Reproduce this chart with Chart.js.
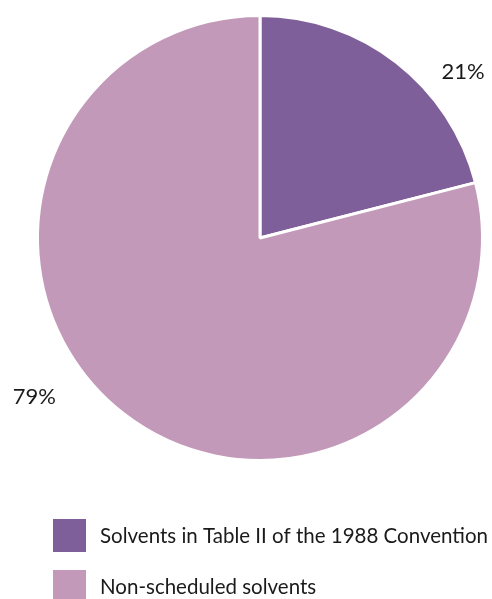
<!DOCTYPE html>
<html>
<head>
<meta charset="utf-8">
<script src="https://cdn.jsdelivr.net/npm/chart.js@4"></script>
<style>
  html, body { margin: 0; padding: 0; background: #fff; }
  #wrap { width: 492px; height: 599px; position: relative; }
</style>
</head>
<body>
<div id="wrap"><canvas id="pie"></canvas></div>
<script>
// data
const labels = ['Solvents in Table II of the 1988 Convention', 'Non-scheduled solvents'];
const shares = [21, 79];
const colours = ['#7f5f99', '#c299b8'];

const FONT = '"Lato", "Open Sans", sans-serif';

// percentage labels outside the slices + the legend underneath
const outsideLabels = {
    id: 'outsideLabels',
    afterDraw(chart, args, opts) {
        const ctx = chart.ctx;
        const meta = chart.getDatasetMeta(0);
        ctx.save();
        ctx.fillStyle = '#1a1a1a';
        ctx.font = '22px ' + FONT;
        ctx.textAlign = 'center';
        ctx.textBaseline = 'middle';
        meta.data.forEach((arc, i) => {
            const p = arc.getProps(['x', 'y', 'startAngle', 'endAngle', 'outerRadius'], true);
            const a = p.startAngle + (p.endAngle - p.startAngle) * opts.frac[i];
            const r = p.outerRadius * opts.dist[i];
            ctx.fillText(shares[i] + '%', p.x + Math.cos(a) * r, p.y + Math.sin(a) * r);
        });

        // legend
        ctx.textAlign = 'left';
        ctx.font = '20.5px ' + FONT;
        labels.forEach((lab, i) => {
            const y = opts.legendTop + i * opts.legendGap;
            ctx.fillStyle = colours[i];
            ctx.fillRect(opts.legendX, y, opts.box, opts.box);
            ctx.fillStyle = '#1a1a1a';
            ctx.fillText(lab, opts.legendX + opts.box + 14, y + opts.box / 2 + 1);
        });
        ctx.restore();
    }
};

new Chart(document.getElementById('pie'), {
    type: 'pie',
    data: {
        labels: labels,
        datasets: [{
            data: shares,
            backgroundColor: colours,
            borderColor: '#ffffff',
            borderWidth: 3
        }]
    },
    options: {
        responsive: true,
        maintainAspectRatio: false,
        animation: false,
        layout: { padding: { left: 36, right: 8, top: 14, bottom: 137 } },
        plugins: {
            legend: { display: false },
            tooltip: { enabled: false },
            outsideLabels: { frac: [0.67, 0.56], dist: [1.18, 1.24], legendX: 53, legendTop: 519, legendGap: 51, box: 33 }
        }
    },
    plugins: [outsideLabels]
});
</script>
</body>
</html>
